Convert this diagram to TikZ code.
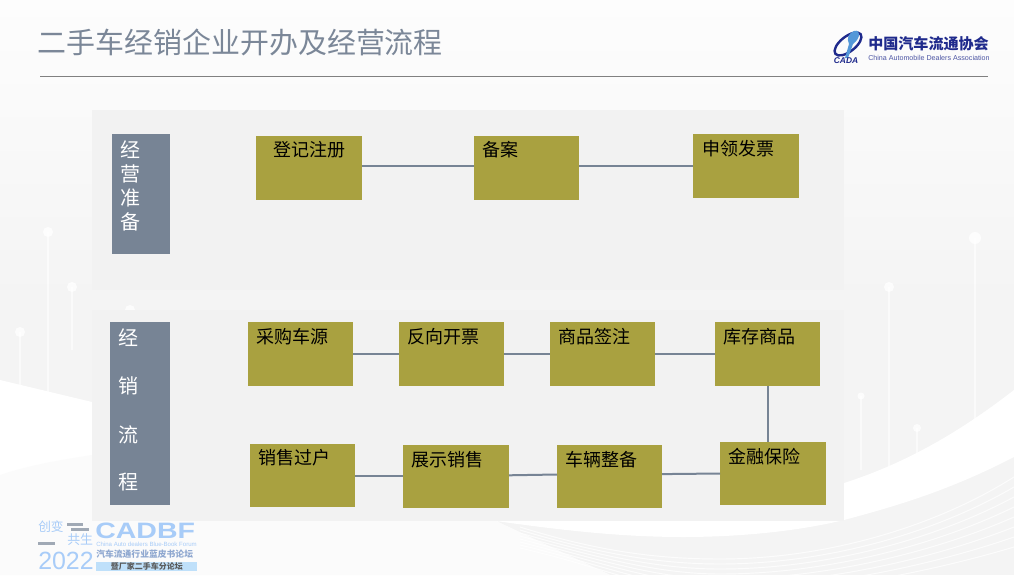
\documentclass[tikz,border=0pt]{standalone}
\usepackage{fontspec}
\usepackage{graphicx}
\setmainfont{Noto Sans CJK SC}
\newfontfamily\latinf{Liberation Sans}
\usetikzlibrary{calc}
\definecolor{slate}{HTML}{778495}
\definecolor{olive}{HTML}{A9A140}
\definecolor{panel}{HTML}{F2F2F2}
\definecolor{titlec}{HTML}{7B8798}
\definecolor{logob}{HTML}{1F2A8C}
\definecolor{cadbf}{HTML}{A8CCF8}
\definecolor{cadbfb}{HTML}{BFE0FA}
\definecolor{cadbft}{HTML}{8FA8D0}
\definecolor{pagetop}{HTML}{FDFDFD}
\definecolor{pagebot}{HTML}{F4F4F4}
\definecolor{fadewave}{HTML}{FBFBFB}
\tikzset{
  x=0.75pt,y=-0.75pt,
  panelbox/.style={fill=panel,draw=none},
  sidebar/.style={fill=slate,draw=none,minimum width=#1*0.75pt,inner sep=0pt,outer sep=0pt,anchor=north west},
  sidech/.style={text=white,font=\fontsize{15}{15}\selectfont,inner sep=0pt},
  boxn/.style={fill=olive,draw=none,inner sep=0pt,outer sep=0pt,minimum width=105*0.75pt,minimum height=63.5*0.75pt,anchor=north west},
  boxt/.style={anchor=west,inner sep=0pt,text=black,font=\fontsize{13.5}{13.5}\selectfont},
  link/.style={draw=slate,line width=1.5pt},
  postl/.style={draw=white,line width=0.8pt,opacity=0.6},
  fanl/.style={draw=white,line width=0.7pt,opacity=0.8},
  lg/.style={anchor=west,inner sep=0pt}
}
\begin{document}
\begin{tikzpicture}
\useasboundingbox (0,0) rectangle (1014,575);
% page ground
\shade[top color=pagetop,bottom color=pagebot] (0,0) rectangle (1014,300);
\fill[pagebot] (0,300) rectangle (1014,575);
% posts
\foreach \x/\y/\r/\e in {48/232/5/395,72/287/5/350,20/332/5/392,130/310/5/400,975/238/6/425,889/287/5/470,861/396/3.5/470,917/428/4/460}{
  \draw[postl] (\x,\y) -- (\x,\e);
  \fill[white,opacity=0.8] (\x,\y) circle (\r);
}
% white band
\fill[white] (0,380) -- (92,402) -- (92,500) -- (700,520) -- (844,483)
  .. controls (910,462) and (965,428) .. (1014,390) -- (1014,457)
  .. controls (950,490) and (900,505) .. (844,520)
  .. controls (790,533) and (730,537) .. (683,537)
  .. controls (620,537) and (560,530) .. (496,521)
  -- (610,575) -- (0,575) -- cycle;
\fill[fadewave] (0,475) .. controls (30,465) and (60,460) .. (92,455) -- (496,521) -- (610,575) -- (0,575) -- cycle;
% fan of thin lines
\foreach \i in {0,1,2,3,4,5,6,7}{
  \draw[fanl] (520,{527+3*\i}) .. controls (600,{552+2*\i}) and (660,{559+5*\i}) .. (720,{559+5*\i})
     .. controls (820,{559+5*\i}) and (930,{530+6*\i}) .. (1014,{477+10*\i});
}
% panels
\fill[panelbox] (92,110) rectangle (844,290);
\fill[panelbox] (92,310) rectangle (844,521);
% title
\node[lg,text=titlec,font=\fontsize{21.7}{22}\selectfont] (title) at (37.5,42) {二手车经销企业开办及经营流程};
\coordinate (ruleL) at (40,76); \coordinate (ruleR) at (988,76);
\draw[draw=gray,line width=0.4pt] (ruleL) -- (ruleR);
% top logo
\draw[logob,line width=1.8pt,rotate around={38:(848,44)}] (848,44) ellipse (16 and 7.5);
\fill[cyan!60!blue!70] (854,31) .. controls (861,29) and (861,38) .. (853,44) -- (848,58) -- (845,58) -- (849,44) .. controls (846,38) and (849,33) .. (854,31) -- cycle;
\node[inner sep=0pt,text=logob,font=\latinf\bfseries\itshape\fontsize{6.3}{7}\selectfont] (cada) at (846,61) {CADA};
\node[lg,text=logob,font=\bfseries\fontsize{11.3}{12}\selectfont] (cnlogo) at (868,44) {中国汽车流通协会};
\node[lg,text=logob!80,font=\latinf\fontsize{5.35}{7}\selectfont] (enlogo) at (868,58) {China Automobile Dealers Association};
% bottom logo
\node[lg,text=cadbf,font=\fontsize{9.5}{10}\selectfont] (bl1) at (38,527) {创变};
\node[lg,text=cadbf,font=\fontsize{9.7}{10}\selectfont] (bl2) at (67,540) {共生};
\fill[slate!70] (67,523) rectangle (83,526);
\fill[slate!70] (71,528) rectangle (89,531);
\fill[slate!70] (38,542) rectangle (55,545);
\node[lg,text=cadbf,font=\latinf\bfseries\fontsize{16.7}{17}\selectfont] (bl3) at (95,530.5) {\scalebox{1.28}[1]{CADBF}};
\node[lg,text=cadbf,font=\latinf\fontsize{4.55}{5}\selectfont] (bl4) at (96,544) {China Auto dealers Blue-Book Forum};
\node[lg,text=cadbf,font=\latinf\fontsize{18.7}{19}\selectfont] (bl5) at (38,561) {2022};
\node[lg,text=cadbft,font=\bfseries\fontsize{6.6}{7}\selectfont] (bl6) at (96,554.5) {汽车流通行业蓝皮书论坛};
\node[lg,fill=cadbfb,minimum width=101*0.75pt,minimum height=9*0.75pt,text=gray!70!black,font=\bfseries\fontsize{6}{6}\selectfont,align=center] (bl7) at (96,566.5) {暨厂家二手车分论坛};
% sidebars
\node[sidebar=58,minimum height=120*0.75pt] (barA) at (112,134) {};
\node[sidebar=60,minimum height=183*0.75pt] (barB) at (110,322) {};
\foreach \n/\t/\y in {a1/经/150,a2/营/174,a3/准/198,a4/备/222}{\node[sidech] (\n) at (130,\y) {\t};}
\foreach \n/\t/\y in {b1/经/338,b2/销/386,b3/流/435,b4/程/482}{\node[sidech] (\n) at (128,\y) {\t};}
% boxes
\node[boxn,minimum width=106*0.75pt,minimum height=64*0.75pt] (reg) at (256,136) {};
\node[boxn,minimum height=64*0.75pt] (rec) at (474,136) {};
\node[boxn,minimum width=106*0.75pt,minimum height=64*0.75pt] (inv) at (693,134) {};
\node[boxn,minimum height=64*0.75pt] (buy) at (248,322) {};
\node[boxn,minimum height=64*0.75pt] (rev) at (399,322) {};
\node[boxn,minimum height=64*0.75pt] (sig) at (550,322) {};
\node[boxn,minimum height=64*0.75pt] (sto) at (715,322) {};
\node[boxn,minimum height=63*0.75pt] (tra) at (250,444) {};
\node[boxn,minimum width=106*0.75pt,minimum height=63*0.75pt] (dis) at (403,445) {};
\node[boxn,minimum height=63*0.75pt] (pre) at (557,445) {};
\node[boxn,minimum width=106*0.75pt,minimum height=63*0.75pt] (fin) at (720,442) {};
% connectors
\draw[link] ([yshift=1.5pt]reg.east) -- ([yshift=1.5pt]rec.west);
\draw[link] ([yshift=1.5pt]rec.east) -- (inv.west);
\draw[link] (buy.east) -- (rev.west);
\draw[link] (rev.east) -- (sig.west);
\draw[link] (sig.east) -- (sto.west);
\draw[link] (sto.south) -- (sto.south |- fin.north);
\draw[link] (tra.east) -- ([yshift=0.75pt]dis.west);
\draw[link] ([yshift=0.9pt]dis.east) -- ([yshift=1.5pt]pre.west);
\draw[link] ([yshift=1.8pt]pre.east) -- (fin.west);
% labels
\node[boxt] (t1) at (273,150) {登记注册};
\node[boxt] (t2) at (482,150) {备案};
\node[boxt] (t3) at (702,149) {申领发票};
\node[boxt] (t4) at (256,337) {采购车源};
\node[boxt] (t5) at (407,337) {反向开票};
\node[boxt] (t6) at (558,337) {商品签注};
\node[boxt] (t7) at (723,337) {库存商品};
\node[boxt] (t8) at (258,458) {销售过户};
\node[boxt] (t9) at (411,460) {展示销售};
\node[boxt] (t10) at (565,460) {车辆整备};
\node[boxt] (t11) at (728,457) {金融保险};
\end{tikzpicture}
\end{document}
